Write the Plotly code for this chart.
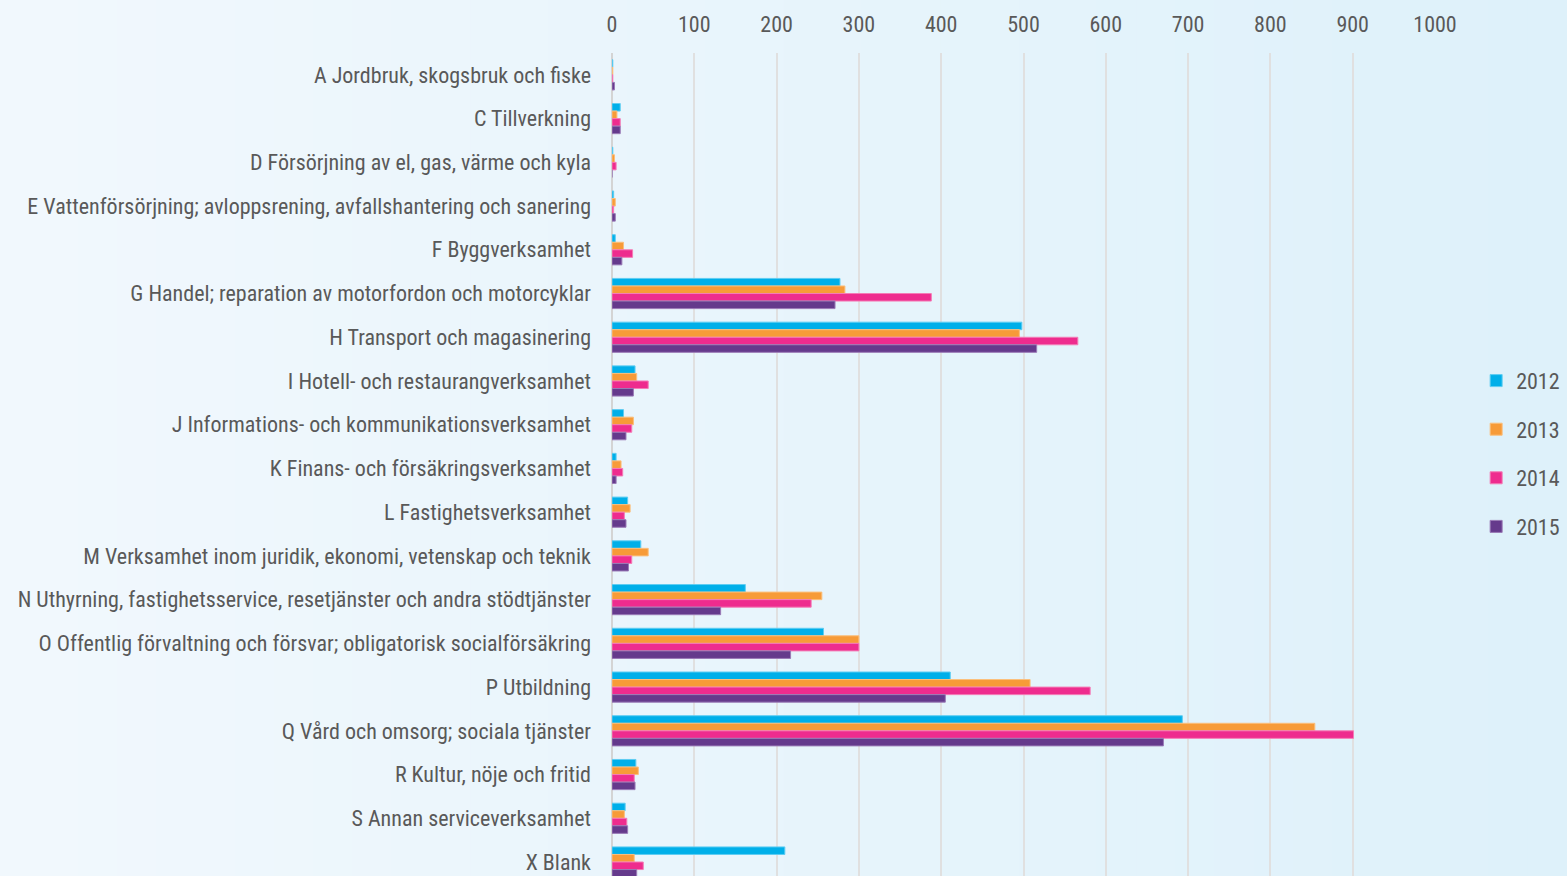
import plotly.graph_objects as go

categories = [
    "A Jordbruk, skogsbruk och fiske",
    "C Tillverkning",
    "D Försörjning av el, gas, värme och kyla",
    "E Vattenförsörjning; avloppsrening, avfallshantering och sanering",
    "F Byggverksamhet",
    "G Handel; reparation av motorfordon och motorcyklar",
    "H Transport och magasinering",
    "I Hotell- och restaurangverksamhet",
    "J Informations- och kommunikationsverksamhet",
    "K Finans- och försäkringsverksamhet",
    "L Fastighetsverksamhet",
    "M Verksamhet inom juridik, ekonomi, vetenskap och teknik",
    "N Uthyrning, fastighetsservice, resetjänster och andra stödtjänster",
    "O Offentlig förvaltning och försvar; obligatorisk socialförsäkring",
    "P Utbildning",
    "Q Vård och omsorg; sociala tjänster",
    "R Kultur, nöje och fritid",
    "S Annan serviceverksamhet",
    "X Blank",
]

years = ["2012", "2013", "2014", "2015"]

v2012 = [1, 10, 1, 2, 4, 277, 498, 28, 14, 5, 19, 35, 162, 257, 411, 693, 29, 16, 210]
v2013 = [1, 6, 3, 4, 14, 283, 495, 30, 26, 11, 22, 44, 255, 300, 508, 854, 32, 15, 27]
v2014 = [1, 10, 5, 2, 25, 388, 566, 44, 24, 13, 15, 24, 242, 300, 581, 901, 27, 18, 38]
v2015 = [3, 10, 0, 4, 12, 271, 516, 26, 17, 5, 17, 20, 132, 217, 405, 670, 28, 19, 30]

x_ticks = [0, 100, 200, 300, 400, 500, 600, 700, 800, 900, 1000]

series = [v2012, v2013, v2014, v2015]
colors = ["#00AFE9", "#F79B38", "#EE2C8E", "#653A8C"]
edge = ["#5fcdf2", "#fbbf7c", "#f47cb6", "#9a7ab6"]

FONT = "Liberation Sans Narrow, Arial Narrow, Roboto Condensed, Liberation Sans, Arial, sans-serif"
TXT = "#595959"

fig = go.Figure()
for name, vals, c, e in zip(years, series, colors, edge):
    fig.add_trace(go.Bar(
        y=categories, x=vals, name=name, orientation="h",
        marker=dict(color=c, line=dict(color=e, width=1)),
        legendgroup=name,
    ))

# background gradient (left lighter, right bluer)
W, L, R = 1567, 612, 1435
pw = R - L
n = 40
c0 = (241, 248, 253)
c1 = (222, 241, 250)
shapes = []
for i in range(n):
    t = i / (n - 1)
    col = "rgb(%d,%d,%d)" % tuple(round(a + (b - a) * t) for a, b in zip(c0, c1))
    x0 = (i * W / n - L) / pw
    x1 = ((i + 1) * W / n - L) / pw + 0.002
    shapes.append(dict(type="rect", xref="paper", yref="paper", x0=x0, x1=x1,
                       y0=-0.2, y1=1.2, fillcolor=col, line=dict(width=0), layer="below"))

fig.update_layout(
    width=1567, height=876,
    margin=dict(l=612, r=132, t=53, b=0, pad=0),
    barmode="group", bargap=0.31, bargroupgap=0,
    paper_bgcolor=f"rgb{c0}",
    plot_bgcolor="rgba(0,0,0,0)",
    shapes=shapes,
    font=dict(family=FONT, color=TXT, size=22),
    showlegend=True,
    legend=dict(
        x=1.05, xanchor="left", y=0.513, yanchor="middle",
        font=dict(size=22, color=TXT, family=FONT),
        tracegroupgap=17, bgcolor="rgba(0,0,0,0)",
        itemwidth=30,
    ),
    xaxis=dict(
        side="top", range=[0, 1000], tickvals=x_ticks,
        ticktext=[str(v) for v in x_ticks],
        showgrid=True, gridcolor="#e0e0e0", gridwidth=1.6,
        zeroline=True, zerolinecolor="#d4d4d4", zerolinewidth=2,
        showline=False, ticks="", tickfont=dict(size=22, color=TXT),
        ticklabelstandoff=16,
    ),
    yaxis=dict(
        range=[18.32, -0.5], type="category",
        showgrid=False, zeroline=False, showline=False, ticks="",
        tickfont=dict(size=22, color=TXT), ticklabelstandoff=20,
    ),
)

fig.write_html(
    "out.html",
    config={"displayModeBar": False},
    post_script="document.body.style.margin='0';document.body.style.overflow='hidden';",
)
